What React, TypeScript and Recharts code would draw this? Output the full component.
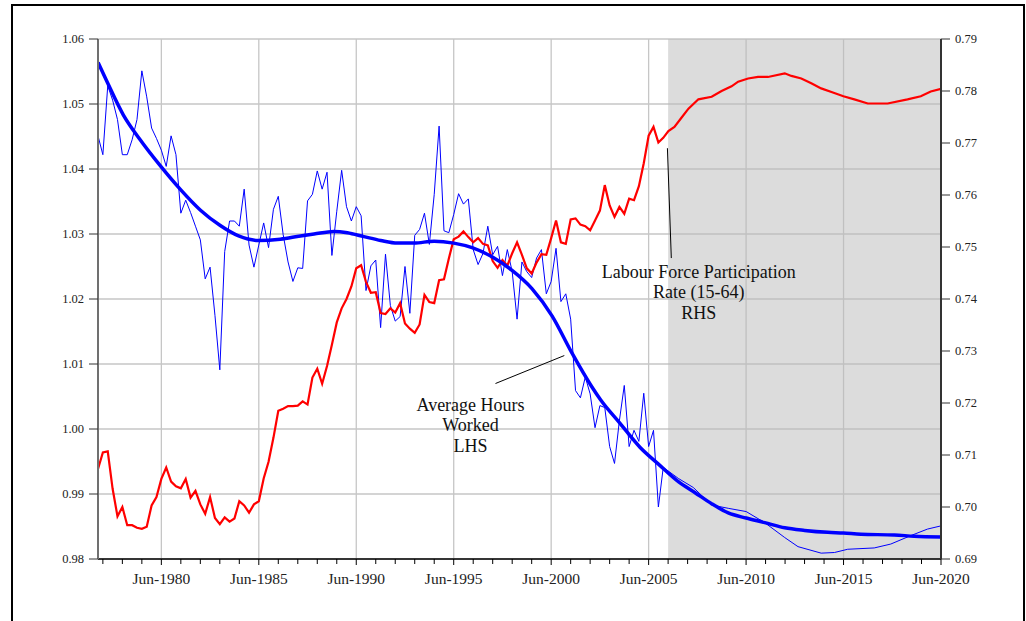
import React from 'react';
import {
  ComposedChart,
  Line,
  XAxis,
  YAxis,
  CartesianGrid,
  ReferenceArea,
  ReferenceLine,
  ReferenceDot,
} from 'recharts';

// quarterly history starts Mar-1977
const quarterStart = 1977 + 2 / 12;

// Average hours worked (index, LHS), quarterly Mar-1977 .. Mar-2006
const hoursActual = [
  1.0451, 1.0422, 1.0528, 1.0506, 1.0476, 1.0422, 1.0422, 1.0445, 1.0476, 1.0551,
  1.0511, 1.0463, 1.0447, 1.0429, 1.0404, 1.0451, 1.0422, 1.0332, 1.0352, 1.0333,
  1.0312, 1.0291, 1.0231, 1.0249, 1.0175, 1.0091, 1.0273, 1.032, 1.032, 1.0312,
  1.0369, 1.0283, 1.0249, 1.0283, 1.0317, 1.0279, 1.0338, 1.0358, 1.0299, 1.0257,
  1.0227, 1.0248, 1.0247, 1.0351, 1.0361, 1.0397, 1.0369, 1.0395, 1.0267, 1.0335,
  1.0398, 1.0342, 1.032, 1.0342, 1.0328, 1.0213, 1.0251, 1.026, 1.0156, 1.0269,
  1.019, 1.0166, 1.0173, 1.025, 1.0178, 1.0298, 1.0307, 1.0332, 1.0284, 1.0361,
  1.0466, 1.0305, 1.0302, 1.033, 1.0362, 1.0346, 1.0354, 1.0276, 1.0253, 1.027,
  1.0312, 1.0268, 1.0281, 1.0236, 1.0276, 1.0242, 1.0169, 1.0257, 1.0242, 1.0233,
  1.0263, 1.0276, 1.0208, 1.0227, 1.0278, 1.0196, 1.0208, 1.0169, 1.0059, 1.0048,
  1.008, 1.0054, 1.0002, 1.0036, 1.0033, 0.9973, 0.9947, 1.0013, 1.0067, 0.9973,
  0.9998, 0.9981, 1.0055, 0.9973, 0.9998, 0.988, 0.9941,
];

// projected hours
const hoursProjYears = [2006.94, 2007.71, 2008.65, 2009.5, 2010.42, 2011.37, 2012.4, 2013.08, 2014.27, 2014.95, 2015.63, 2016.99, 2017.84, 2018.87, 2019.72, 2020.42];
const hoursProjValues = [0.9924, 0.991, 0.9883, 0.9878, 0.9873, 0.9856, 0.9833, 0.9819, 0.9809, 0.981, 0.9815, 0.9817, 0.9823, 0.9836, 0.9846, 0.9851];

// hours trend (thick line)
const trendYears = [
  1977.17, 1977.62, 1978.47, 1979.33, 1980.39, 1981.38, 1982.41, 1983.44, 1984.38, 1985.4,
  1986.52, 1987.55, 1988.25, 1989.27, 1989.96, 1990.81, 1991.67, 1992.53, 1993.38, 1994.41,
  1995.42, 1996.36, 1997.38, 1998.41, 1999.43, 2000.46, 2001.48, 2002.5, 2002.95, 2003.94,
  2004.97, 2005.92, 2006.94, 2007.8, 2008.65, 2009.5, 2010.42, 2011.37, 2012.4, 2013.42,
  2014.61, 2015.41, 2016.31, 2018.02, 2019.04, 2020.42,
];
const trendValues = [
  1.0564, 1.0535, 1.0483, 1.0445, 1.0404, 1.0369, 1.0337, 1.0313, 1.0297, 1.029,
  1.0292, 1.0297, 1.03, 1.0304, 1.0302, 1.0296, 1.029, 1.0286, 1.0286, 1.0289,
  1.0286, 1.0279, 1.0265, 1.0244, 1.0216, 1.0174, 1.0117, 1.0065, 1.0045, 1.0009,
  0.9972, 0.9946, 0.9919, 0.9902, 0.9885, 0.9871, 0.9863, 0.9856, 0.9848, 0.9844,
  0.9841, 0.984, 0.9838, 0.9837, 0.9835, 0.9834,
];

// Labour force participation rate 15-64 (RHS), quarterly Mar-1977 .. Mar-2006
const lfpActual = [
  0.7073, 0.7105, 0.7107, 0.7035, 0.6982, 0.7, 0.6965, 0.6965, 0.696, 0.6958,
  0.6962, 0.7003, 0.7019, 0.7054, 0.7076, 0.7049, 0.704, 0.7036, 0.7054, 0.7018,
  0.7031, 0.7005, 0.6987, 0.7019, 0.6979, 0.6967, 0.698, 0.6972, 0.6978, 0.7011,
  0.7003, 0.6989, 0.7005, 0.7011, 0.7055, 0.7087, 0.7133, 0.7185, 0.7189, 0.7194,
  0.7194, 0.7195, 0.7203, 0.7197, 0.7249, 0.7266, 0.7237, 0.7271, 0.7312, 0.7355,
  0.7382, 0.74, 0.7424, 0.7459, 0.7465, 0.7433, 0.7412, 0.7413, 0.7373, 0.7371,
  0.7382, 0.7374, 0.7392, 0.7353, 0.7343, 0.7335, 0.7351, 0.7408, 0.7394, 0.7392,
  0.7436, 0.7438, 0.7478, 0.7515, 0.752, 0.753, 0.7519, 0.7509, 0.7517, 0.7506,
  0.7503, 0.7473, 0.746, 0.7475, 0.7464, 0.7488, 0.7509, 0.7485, 0.7459, 0.7449,
  0.747, 0.7486, 0.7485, 0.7517, 0.7551, 0.7509, 0.7506, 0.7553, 0.7555, 0.7543,
  0.754, 0.7532, 0.7551, 0.757, 0.7619, 0.758, 0.7558, 0.7577, 0.7564, 0.7593,
  0.759, 0.7617, 0.7661, 0.7714, 0.7731, 0.7701, 0.771,
];

// projected participation
const lfpProjYears = [
  2006.43, 2006.74, 2007.11, 2007.46, 2007.97, 2008.65, 2009.16, 2009.67, 2010.01, 2010.52,
  2011.03, 2011.54, 2012.4, 2012.74, 2013.25, 2013.76, 2014.27, 2014.87, 2015.41, 2015.97,
  2016.66, 2017.68, 2018.7, 2019.38, 2019.89, 2020.42,
];
const lfpProjValues = [
  0.7723, 0.7731, 0.7749, 0.7766, 0.7784, 0.7789, 0.78, 0.7809, 0.7818, 0.7824,
  0.7827, 0.7827, 0.7834, 0.7829, 0.7824, 0.7815, 0.7805, 0.7797, 0.779, 0.7784,
  0.7776, 0.7776, 0.7784, 0.779, 0.7799, 0.7804,
];

const leftTicks = [0.98, 0.99, 1.0, 1.01, 1.02, 1.03, 1.04, 1.05, 1.06];
const rightTicks = [0.69, 0.7, 0.71, 0.72, 0.73, 0.74, 0.75, 0.76, 0.77, 0.78, 0.79];
const tickYears = Array.from({ length: 44 }, (_, i) => 1977 + i);
const labelYears = [1980, 1985, 1990, 1995, 2000, 2005, 2010, 2015, 2020];
const JUN = 5 / 12;
const projectionStart = 2006 + JUN;

const hoursData = [
  ...hoursActual.map((v, i) => ({ x: quarterStart + i * 0.25, y: v })),
  ...hoursProjYears.map((x, i) => ({ x, y: hoursProjValues[i] })),
];
const trendData = trendYears.map((x, i) => ({ x, y: trendValues[i] }));
const lfpData = [
  ...lfpActual.map((v, i) => ({ x: quarterStart + i * 0.25, y: v })),
  ...lfpProjYears.map((x, i) => ({ x, y: lfpProjValues[i] })),
];

const FONT = '"Liberation Serif", "Times New Roman", serif';

const XTick = ({ x, y, payload }: any) => {
  const yr = Math.round(payload.value - JUN);
  const major = labelYears.includes(yr);
  return (
    <g>
      <line x1={x} x2={x} y1={y} y2={y + (major ? 6 : 5)} stroke="#000" strokeWidth={1} />
      {major && (
        <text x={x} y={y + 25} textAnchor="middle" fontSize={15.5} fill="#222" fontFamily={FONT}>
          {`Jun-${yr}`}
        </text>
      )}
    </g>
  );
};

const Note = ({ viewBox, lines }: any) => {
  if (!viewBox) return null;
  const cx = viewBox.x + (viewBox.width || 0) / 2;
  const cy = viewBox.y + (viewBox.height || 0) / 2;
  return (
    <text x={cx} y={cy} textAnchor="middle" fontSize={18} fill="#111" fontFamily={FONT}>
      {lines.map((l: string, i: number) => (
        <tspan key={i} x={cx} dy={i === 0 ? 0 : 20.5}>
          {l}
        </tspan>
      ))}
    </text>
  );
};

export default function App() {
  return (
    <div style={{ position: 'fixed', left: 0, top: 0, width: 1026, height: 621, overflow: 'hidden', background: '#fff' }}>
      <div
        style={{
          position: 'absolute',
          left: 11,
          top: 4,
          width: 1010,
          height: 700,
          border: '2px solid #000',
          background: '#fff',
          fontFamily: FONT,
        }}
      >
        <ComposedChart
          width={1010}
          height={610}
          margin={{ top: 33, right: 22, left: 25, bottom: 17 }}
          style={{ fontFamily: FONT }}
        >
          <CartesianGrid
            yAxisId="left"
            stroke="#c6c6c6"
            strokeWidth={1.3}
            verticalValues={labelYears.map((yr) => yr + JUN)}
          />
          <ReferenceArea
            yAxisId="left"
            x1={projectionStart}
            x2={2020 + JUN}
            fill="#b9b9b9"
            fillOpacity={0.5}
            stroke="none"
            ifOverflow="hidden"
          />
          <XAxis
            type="number"
            dataKey="x"
            domain={[quarterStart, 2020 + JUN]}
            allowDataOverflow
            ticks={tickYears.map((yr) => yr + JUN)}
            interval={0}
            tick={<XTick />}
            tickLine={false}
            tickSize={0}
            tickMargin={0}
            height={40}
            axisLine={{ stroke: '#000', strokeWidth: 1.5 }}
          />
          <YAxis
            yAxisId="left"
            domain={[0.98, 1.06]}
            ticks={leftTicks}
            interval={0}
            tickFormatter={(v: number) => v.toFixed(2)}
            width={60}
            tickSize={9}
            tickMargin={5}
            axisLine={{ stroke: '#707070', strokeWidth: 2 }}
            tickLine={{ stroke: '#333', strokeWidth: 1 }}
            tick={{ fontSize: 12.5, fill: '#222', fontFamily: FONT }}
          />
          <YAxis
            yAxisId="right"
            orientation="right"
            domain={[0.69, 0.79]}
            ticks={rightTicks}
            interval={0}
            tickFormatter={(v: number) => v.toFixed(2)}
            width={60}
            tickSize={9}
            tickMargin={5}
            axisLine={{ stroke: '#333', strokeWidth: 2 }}
            tickLine={{ stroke: '#333', strokeWidth: 1 }}
            tick={{ fontSize: 12.5, fill: '#222', fontFamily: FONT }}
          />
          <Line
            yAxisId="left"
            data={hoursData}
            dataKey="y"
            type="linear"
            stroke="#0000ff"
            strokeWidth={1}
            dot={false}
            activeDot={false}
            isAnimationActive={false}
          />
          <Line
            yAxisId="right"
            data={lfpData}
            dataKey="y"
            type="linear"
            stroke="#ff0000"
            strokeWidth={2.2}
            dot={false}
            activeDot={false}
            isAnimationActive={false}
          />
          <Line
            yAxisId="left"
            data={trendData}
            dataKey="y"
            type="monotone"
            stroke="#0000ff"
            strokeWidth={3.5}
            dot={false}
            activeDot={false}
            isAnimationActive={false}
          />
          <ReferenceLine
            yAxisId="left"
            segment={[{ x: 2006.38, y: 1.0432 }, { x: 2006.58, y: 1.0263 }]}
            stroke="#000"
            strokeWidth={1}
          />
          <ReferenceLine
            yAxisId="left"
            segment={[{ x: 1997.56, y: 1.007 }, { x: 2001.09, y: 1.0113 }]}
            stroke="#000"
            strokeWidth={1}
          />
          <ReferenceDot
            yAxisId="left"
            x={2007.99}
            y={1.0233}
            r={0}
            fill="none"
            stroke="none"
            label={<Note lines={['Labour Force Participation', 'Rate (15-64)', 'RHS']} />}
          />
          <ReferenceDot
            yAxisId="left"
            x={1996.28}
            y={1.0028}
            r={0}
            fill="none"
            stroke="none"
            label={<Note lines={['Average Hours', 'Worked', 'LHS']} />}
          />
        </ComposedChart>
      </div>
    </div>
  );
}
